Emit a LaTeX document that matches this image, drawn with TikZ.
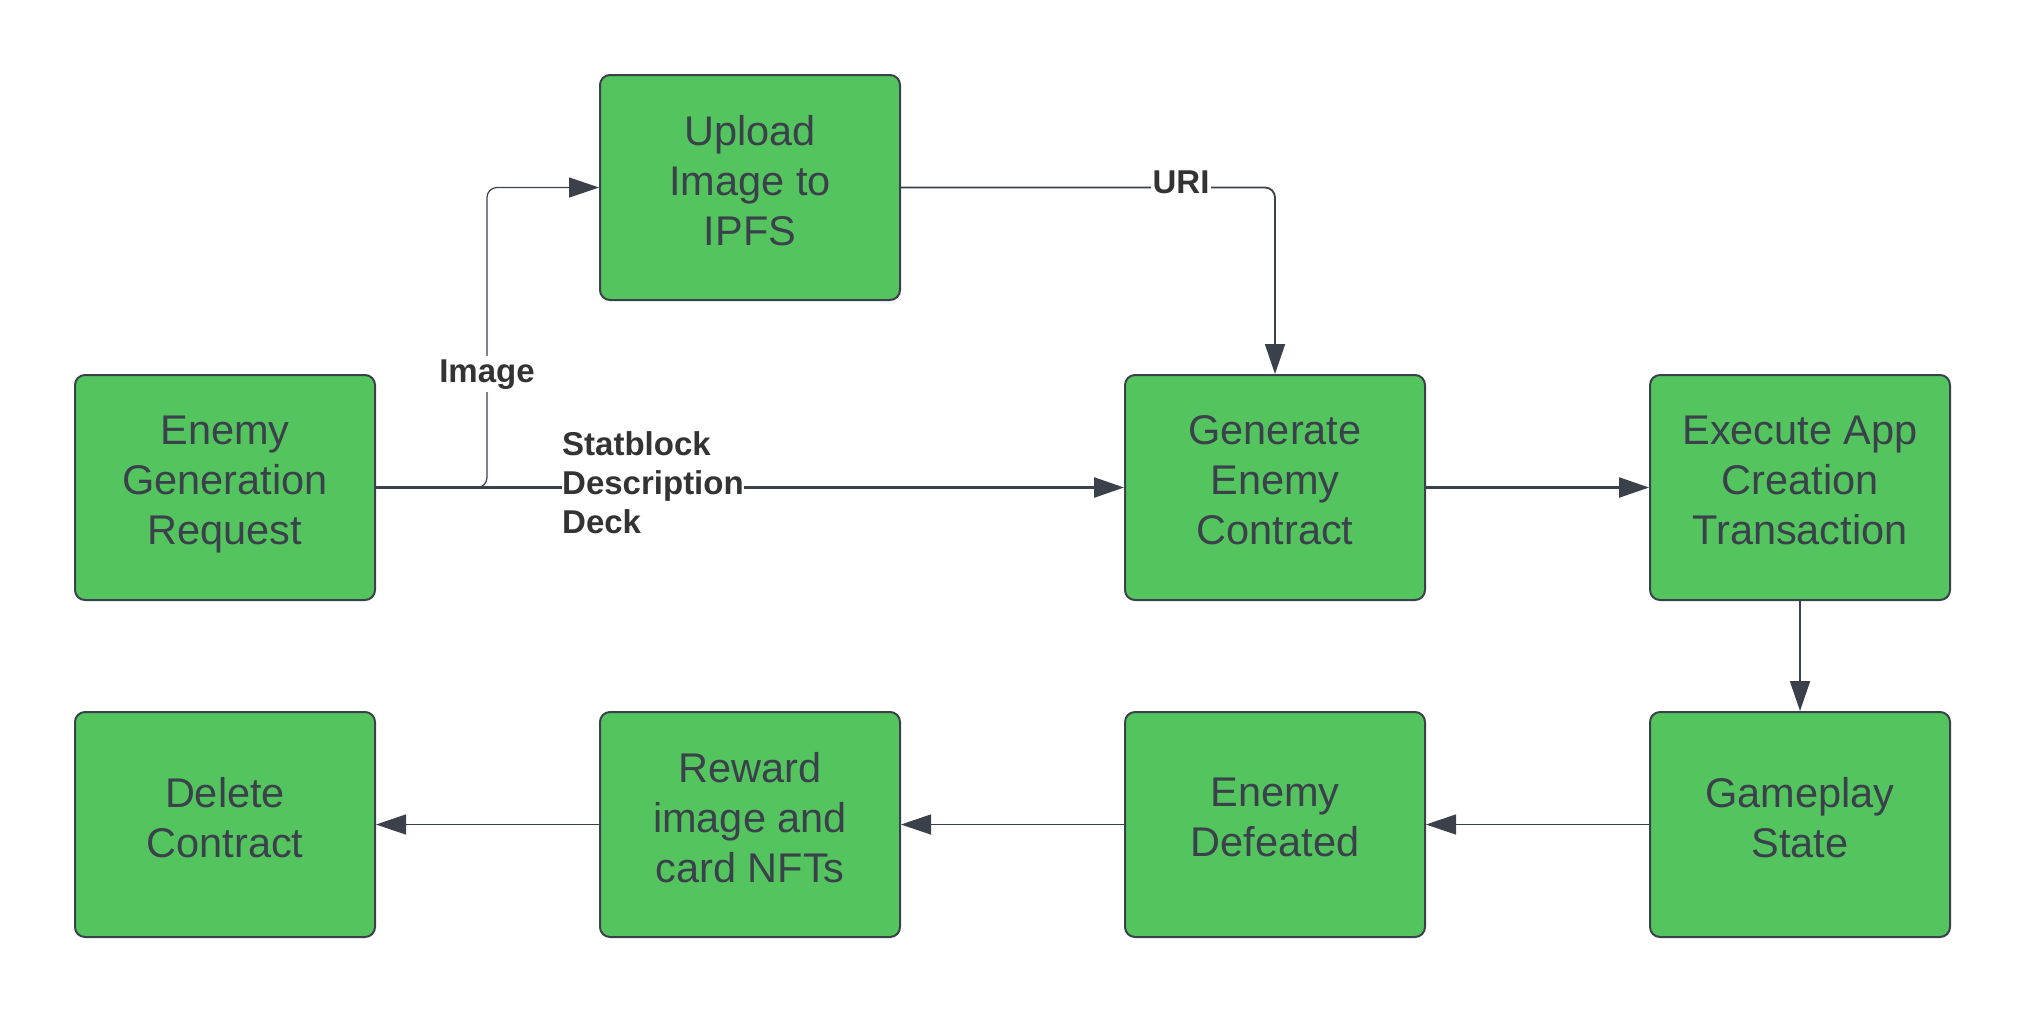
\documentclass[tikz,border=0pt]{standalone}
\usepackage{fontspec}
\setmainfont{Liberation Sans}
\usetikzlibrary{arrows.meta}
\definecolor{boxgreen}{HTML}{54C45E}
\definecolor{strokec}{HTML}{3A414A}
\definecolor{lblc}{HTML}{333333}
\begin{document}
\begin{tikzpicture}[x=1pt,y=-1pt,
  box/.style={draw=strokec, line width=2pt, fill=boxgreen, rounded corners=10pt,
    minimum width=300pt, minimum height=225pt, align=center, text=strokec,
    font=\fontsize{41.5}{50}\selectfont, inner sep=0pt,
    execute at begin node=\strut, execute at end node=\strut},
  flow/.style={draw=strokec, -{Triangle[length=30pt,width=20pt]}},
  lab/.style={fill=white, text=lblc, font=\bfseries\fontsize{33}{39}\selectfont, inner sep=1.5pt}]
\useasboundingbox (0,0) rectangle (2025,1013);
\fill[white] (0,0) rectangle (2025,1013);
% boxes
\node[box] (egr) at (225,487.5) {Enemy\\Generation\\Request};
\node[box] (up)  at (750,187.5) {Upload\\Image to\\IPFS};
\node[box] (gen) at (1275,487.5) {Generate\\Enemy\\Contract};
\node[box] (exe) at (1800,487.5) {Execute App\\Creation\\Transaction};
\node[box] (del) at (225,824.5) {Delete\\Contract};
\node[box] (rew) at (750,824.5) {Reward\\image and\\card NFTs};
\node[box] (def) at (1275,824.5) {Enemy\\Defeated};
\node[box] (gam) at (1800,824.5) {Gameplay\\State};
% connectors
\coordinate (j1) at (487,487.5);
\draw[flow, line width=1.2pt, rounded corners=10pt] (egr.east) -- (j1) |- (up.west);
\draw[flow, line width=2.6pt] (egr.east) -- (gen.west);
\draw[flow, line width=1.8pt, rounded corners=10pt] (up.east) -| (gen.north);
\draw[flow, line width=2.4pt] (gen.east) -- (exe.west);
\draw[flow, line width=2pt] (exe.south) -- (gam.north);
\draw[flow, line width=1.2pt] (gam.west) -- (def.east);
\draw[flow, line width=1.2pt] (def.west) -- (rew.east);
\draw[flow, line width=1.2pt] (rew.west) -- (del.east);
% labels
\node[lab, anchor=base, inner xsep=2pt, inner ysep=3pt] (limg) at (487,382) {Image};
\node[lab, anchor=base, inner xsep=2pt, inner ysep=1pt] (luri) at (1181,193) {URI};
\node[lab, anchor=north west, align=left, inner sep=0pt] (lsdd) at (562,431.5) {Statblock\\Description\\Deck};
\end{tikzpicture}
\end{document}
